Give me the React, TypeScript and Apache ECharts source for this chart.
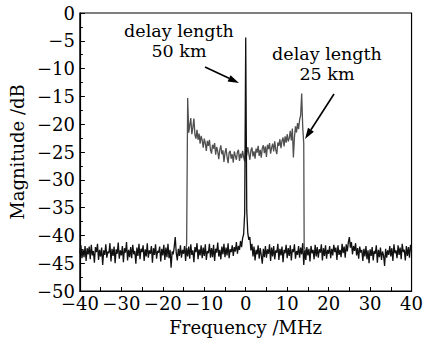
import React, { useEffect, useRef } from "react";
import * as echarts from "echarts";

const xMin = -40;
const xMax = 40;
const yMin = -50;
const yMax = 0;

// delay length 50 km (black): sampled every 0.25 MHz from -40 to 40
const blackStart = -40;
const blackStep = 0.25;
const black50km: number[] = [
  -43.2, -41.8, -44.1, -42.5, -43.9, -41.9, -44.6, -42.3, -43.4, -42.0, -44.3, -41.7, -43.6, -42.8, -44.9, -42.1, -43.0, -41.5, -44.4, -42.6,
  -43.8, -42.2, -45.3, -42.7, -43.5, -41.6, -44.0, -42.9, -43.2, -41.4, -44.7, -42.4, -43.7, -42.0, -45.0, -42.5, -43.3, -41.3, -44.2, -42.7,
  -43.6, -41.9, -44.8, -42.3, -43.1, -41.2, -44.5, -42.6, -43.9, -42.1, -44.1, -41.7, -43.4, -42.8, -45.1, -42.2, -43.7, -41.5, -44.3, -42.4,
  -43.0, -41.8, -44.6, -42.5, -43.8, -41.4, -44.0, -42.7, -43.3, -41.9, -44.9, -42.3, -43.5, -41.6, -44.2, -42.8, -43.1, -42.0, -44.7, -42.4,
  -43.6, -41.7, -44.4, -42.2, -43.9, -41.5, -44.1, -42.6, -45.8, -42.9, -43.4, -42.1, -40.3, -43.2, -44.5, -42.4, -43.7, -41.8, -44.0, -42.6,
  -43.3, -41.9, -44.6, -42.3, -43.8, -42.0, -44.2, -41.6, -43.5, -42.7, -44.8, -42.1, -43.0, -41.4, -44.3, -42.5, -43.6, -41.8, -44.1, -42.2,
  -43.7, -41.6, -44.4, -42.8, -43.2, -41.5, -44.0, -42.3, -43.9, -41.7, -44.6, -42.4, -43.1, -41.3, -43.8, -42.6, -44.3, -42.0, -43.4, -41.5,
  -43.9, -42.2, -43.6, -41.4, -44.1, -42.5, -43.0, -41.8, -43.7, -42.1, -42.9, -41.2, -43.3, -41.9, -42.6, -41.0, -42.1, -40.5, -39.8, -36.0,
  -4.4, -35.5, -39.6, -40.8, -40.3, -42.7, -41.5, -43.8, -42.0, -44.5, -42.6, -43.4, -41.8, -44.2, -42.3, -43.6, -45.1, -42.4, -43.9, -41.9,
  -44.0, -42.5, -43.3, -41.6, -44.6, -42.2, -43.8, -41.9, -44.3, -42.7, -43.1, -41.5, -44.4, -42.4, -43.6, -42.0, -44.8, -42.6, -43.2, -41.7,
  -44.1, -42.3, -43.7, -41.8, -44.5, -42.5, -43.0, -41.6, -44.2, -42.8, -43.5, -41.9, -44.0, -42.2, -43.4, -41.4, -45.3, -42.7, -44.4, -42.1,
  -43.6, -42.4, -44.7, -41.9, -43.2, -42.6, -44.3, -41.7, -43.8, -42.1, -44.0, -42.5, -43.1, -41.6, -44.5, -42.3, -43.7, -41.8, -44.2, -42.6,
  -43.3, -41.9, -44.1, -42.4, -43.6, -41.7, -43.0, -42.2, -44.4, -41.8, -43.5, -42.6, -43.9, -41.5, -43.2, -42.0, -44.0, -41.6, -42.9, -41.3,
  -40.3, -42.2, -41.2, -43.4, -41.9, -42.8, -41.4, -43.6, -42.3, -44.2, -42.0, -43.1, -42.6, -44.6, -42.4, -43.8, -41.9, -44.3, -42.7, -45.0,
  -42.5, -43.7, -42.1, -44.5, -42.8, -43.3, -41.8, -44.9, -42.6, -43.9, -42.2, -44.4, -42.9, -43.6, -45.5, -42.4, -44.0, -42.7, -43.5, -41.9,
  -43.8, -42.3, -44.6, -41.6, -43.2, -42.7, -44.1, -41.8, -43.5, -42.2, -44.3, -41.5, -43.0, -42.6, -44.5, -41.9, -43.7, -42.1, -44.0, -41.7,
  -42.9,
];

// delay length 25 km (gray): [frequency MHz, magnitude dB]
const gray25km: [number, number][] = [
  [-14.5, -43.0], [-14.25, -41.5], [-14.0, -15.3], [-13.75, -21.5], [-13.5, -20.2], [-13.25, -18.9], [-13.0, -21.8],
  [-12.75, -20.6], [-12.5, -19.0], [-12.25, -21.9], [-12.0, -22.6], [-11.75, -21.0], [-11.5, -22.8], [-11.25, -21.7],
  [-11.0, -23.5], [-10.75, -22.1], [-10.5, -22.9], [-10.25, -24.2], [-10.0, -22.6], [-9.75, -23.4], [-9.5, -24.8],
  [-9.25, -23.0], [-9.0, -23.9], [-8.75, -22.8], [-8.5, -24.6], [-8.25, -25.3], [-8.0, -23.7], [-7.75, -24.4],
  [-7.5, -23.4], [-7.25, -25.5], [-7.0, -24.1], [-6.75, -24.9], [-6.5, -26.3], [-6.25, -24.6], [-6.0, -23.8],
  [-5.75, -25.4], [-5.5, -24.7], [-5.25, -26.8], [-5.0, -25.2], [-4.75, -24.3], [-4.5, -25.9], [-4.25, -27.0],
  [-4.0, -25.1], [-3.75, -24.8], [-3.5, -26.2], [-3.25, -25.4], [-3.0, -26.9], [-2.75, -24.9], [-2.5, -25.7],
  [-2.25, -26.4], [-2.0, -25.0], [-1.75, -24.6], [-1.5, -26.6], [-1.25, -25.3], [-1.0, -26.1], [-0.75, -24.8],
  [-0.5, -25.9], [-0.25, -26.7], [0.0, -24.5], [0.25, -25.6], [0.5, -24.1], [0.75, -25.3], [1.0, -26.4],
  [1.25, -24.7], [1.5, -24.2], [1.75, -25.8], [2.0, -24.9], [2.25, -26.2], [2.5, -24.4], [2.75, -25.1],
  [3.0, -23.9], [3.25, -25.7], [3.5, -24.6], [3.75, -26.0], [4.0, -24.3], [4.25, -23.8], [4.5, -25.2],
  [4.75, -24.0], [5.0, -25.9], [5.25, -23.7], [5.5, -24.5], [5.75, -23.4], [6.0, -25.3], [6.25, -24.2],
  [6.5, -23.5], [6.75, -24.9], [7.0, -23.1], [7.25, -24.6], [7.5, -25.4], [7.75, -23.3], [8.0, -23.9],
  [8.25, -22.7], [8.5, -24.3], [8.75, -23.0], [9.0, -22.4], [9.25, -24.0], [9.5, -22.2], [9.75, -23.3],
  [10.0, -21.8], [10.25, -23.1], [10.5, -22.5], [10.75, -21.2], [11.0, -22.9], [11.25, -20.8], [11.5, -26.0],
  [11.75, -22.4], [12.0, -20.4], [12.25, -21.5], [12.5, -19.8], [12.75, -20.9], [13.0, -19.2], [13.25, -18.4],
  [13.5, -14.5], [13.75, -20.5], [14.0, -23.5], [14.1, -42.0], [14.5, -43.0],
];

const annotations = [
  { lines: ["delay length", "50 km"], cx: 179, y: 22, from: [205, 67], to: [239, 83] },
  { lines: ["delay length", "25 km"], cx: 327, y: 45, from: [334, 94], to: [305, 139] },
];

const FONT = "DejaVu Serif";
const minus = (v: number) => String(v).replace("-", "\u2212");

function arrowGraphics(from: number[], to: number[]) {
  const [x1, y1] = from;
  const [x2, y2] = to;
  const dx = x2 - x1;
  const dy = y2 - y1;
  const len = Math.hypot(dx, dy);
  const ux = dx / len;
  const uy = dy / len;
  const hl = 11;
  const hw = 3.5;
  const bx = x2 - ux * hl;
  const by = y2 - uy * hl;
  return [
    { type: "line", shape: { x1, y1, x2: bx, y2: by }, style: { stroke: "#000", lineWidth: 1.6 } },
    {
      type: "polygon",
      shape: { points: [[x2, y2], [bx - uy * hw, by + ux * hw], [bx + uy * hw, by - ux * hw]] },
      style: { fill: "#000" },
    },
  ];
}

export default function App() {
  const ref = useRef<HTMLDivElement>(null);
  useEffect(() => {
    if (!ref.current) return;
    const chart = echarts.init(ref.current, null, { renderer: "svg" });
    const graphics: any[] = [];
    annotations.forEach((a) => {
      a.lines.forEach((t, i) => {
        graphics.push({
          type: "text",
          x: a.cx,
          y: a.y + i * 20,
          style: { text: t, font: `17.5px "${FONT}"`, fill: "#000", align: "center", verticalAlign: "top" },
        });
      });
      graphics.push(...arrowGraphics(a.from, a.to));
    });
    const blackData = black50km.map((v, i) => [blackStart + i * blackStep, v]);
    chart.setOption({
      animation: false,
      backgroundColor: "#fff",
      grid: { left: 71, right: 13, top: 13, bottom: 54, show: true, borderColor: "#000", borderWidth: 1.2 },
      xAxis: {
        type: "value",
        min: xMin,
        max: xMax,
        interval: 10,
        name: "Frequency /MHz",
        nameLocation: "middle",
        nameGap: 27,
        nameTextStyle: { fontFamily: FONT, fontSize: 18, color: "#000" },
        axisLine: { show: true, onZero: false, lineStyle: { color: "#000", width: 1.2 } },
        axisTick: { show: true, inside: true, length: 4, lineStyle: { color: "#000" } },
        minorTick: { show: true, splitNumber: 2, length: 4, lineStyle: { color: "#000" } },
        axisLabel: { fontFamily: FONT, fontSize: 18, color: "#000", margin: 3, formatter: minus },
        splitLine: { show: false },
      },
      yAxis: {
        type: "value",
        min: yMin,
        max: yMax,
        interval: 5,
        name: "Magnitude /dB",
        nameLocation: "middle",
        nameGap: 49,
        nameTextStyle: { fontFamily: FONT, fontSize: 18, color: "#000" },
        axisLine: { show: true, onZero: false, lineStyle: { color: "#000", width: 1.2 } },
        axisTick: { show: true, inside: true, length: 5, lineStyle: { color: "#000" } },
        minorTick: { show: true, splitNumber: 2, length: 3, lineStyle: { color: "#000" } },
        axisLabel: { fontFamily: FONT, fontSize: 18, color: "#000", margin: 5, formatter: minus },
        splitLine: { show: false },
      },
      series: [
        {
          type: "line",
          data: gray25km,
          symbol: "none",
          lineStyle: { color: "#505050", width: 1.3 },
          z: 2,
        },
        {
          type: "line",
          data: blackData,
          symbol: "none",
          lineStyle: { color: "#111", width: 1.3 },
          z: 3,
        },
      ],
      graphic: graphics,
    });
    return () => chart.dispose();
  }, []);
  return <div ref={ref} style={{ width: 426, height: 345, position: "absolute", left: 0, top: 0 }} />;
}
